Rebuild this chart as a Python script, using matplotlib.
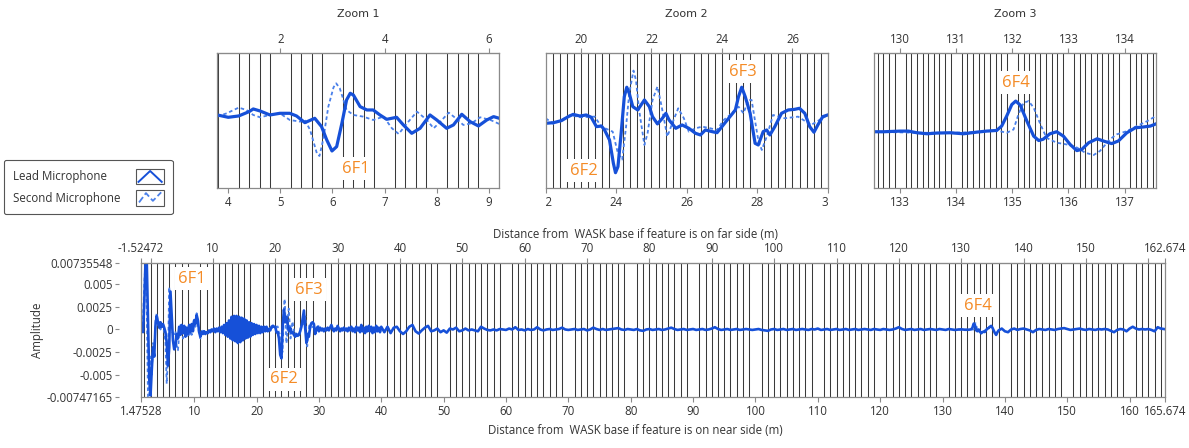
import numpy as np
import matplotlib
matplotlib.use('Agg')
import matplotlib.pyplot as plt
from matplotlib.ticker import MultipleLocator, NullLocator
from matplotlib.legend_handler import HandlerBase
from matplotlib.patches import Rectangle
from matplotlib.lines import Line2D
from matplotlib.transforms import Bbox, TransformedBbox

AMP_UNIT = 1e-3          # all amplitude lists below are in units of 1e-3
NEAR_FAR_OFFSET = 3.0    # far-side distance = near-side distance - 3

# ---------------- overview (main) chart data ----------------
# lead microphone, segment A: start 1.4 m, step 0.2 m
main_leadA_start, main_leadA_step = 1.4, 0.2
main_leadA = [
    0.2, 0.3, -0.3, 3.0, 7.5, 7.5, 1.0, -5.5, -7.3, -4.5,
    -2.0, -3.0, 0.5, 1.5, 0.8, 0.2, 0.8, 0.3, 0.6, 0.2,
    -0.3, -1.5, -4.0, -2.0, 4.2, 1.5, -1.2, -2.2, -1.8, -0.5,
    -1.0, 0.3, -0.6, 0.5, -0.4, 0.4, -0.8, 0.2, -0.5, 0.5,
    -0.3, 0.6, -0.2, 1.0, 0.6, 1.6, 1.0, -0.3, -0.8, -0.3,
    -0.5, -0.2, -0.5, -0.3, -0.4, -0.1, -0.3, 0.0, -0.2, 0.1,
    -0.3, 0.1, -0.2, 0.2, -0.3, 0.3, -0.4, 0.5, -0.6, 0.7,
    -0.8, 1.0, -1.0, 1.4, -1.2, 1.5, -1.3, 1.5, -1.5, 1.4,
    -1.4, 1.3, -1.2, 1.2, -1.0, 1.0, -0.9, 0.8, -0.8, 0.7,
    -0.6, 0.6, -0.5, 0.5, -0.4, 0.4, -0.4, 0.3, -0.3, 0.3,
    -0.2, 0.3, -0.2, 0.0, -0.1, 0.3, 0.4, 0.3, 0.3, -0.3,
    -0.3, -1.0, -2.8, -3.2, 0.5, 2.2, 0.8, 1.4, 0.5, -0.2,
    0.2, -0.4, -0.3, -0.6, -0.8, -0.5, -0.7, -0.6, -0.2, 0.3,
    1.2, 2.1, 0.2, -1.5, -0.5, -0.8, 0.3, 0.7, 0.8, 0.6,
    -0.5, 0.0, 0.3, -0.2, 0.2, -0.1, 0.1, -0.2, 0.1, -0.1,
    0.2, -0.1, 0.2, 0.5, 0.1, -0.2, 0.1, -0.1, 0.4, 0.1,
    -0.2, 0.1, -0.1, 0.2, -0.1, 0.1, -0.2, 0.2, -0.1, 0.3,
    -0.2, 0.1, -0.3, 0.3, -0.1, 0.2, -0.3, 0.5, -0.2, 0.2,
    -0.4, 0.3, -0.2, 0.4, -0.2, 0.3, -0.4, 0.2, -0.3, 0.4,
    -0.2, 0.2, -0.3, 0.3,
]
# segment B: start 40.5 m, step 0.5 m
main_leadB_start, main_leadB_step = 40.5, 0.5
main_leadB = [
    -0.3, 0.3, -0.4, 0.2, 0.3, -0.2, -0.5, -0.2, 0.3, 0.5,
    -0.2, -0.45, -0.1, 0.2, 0.4, -0.2, -0.1, 0.1, -0.3, -0.1,
    -0.35, 0.1, 0.0, 0.2, -0.2, -0.1, 0.1, -0.1, 0.0, -0.1,
    -0.2, 0.3, 0.1, -0.05, -0.1, 0.0, -0.1, 0.05, 0.0, -0.05,
    0.1, 0.0, 0.25, -0.05, 0.0, -0.1, 0.05, -0.05, 0.0, 0.25,
    0.0, -0.1, 0.0, 0.05, -0.05, 0.0, 0.05, 0.2, 0.0, -0.05,
    0.0, 0.05, -0.05, 0.0, 0.05, -0.1, 0.0, 0.2, 0.05, -0.05,
    0.05, -0.05, 0.0, 0.05, 0.1, 0.15, 0.0, -0.05, 0.05, 0.0,
    -0.05, 0.05, -0.1, -0.15, 0.0, 0.05, -0.05, 0.0, 0.05, -0.05,
    0.0, 0.1, 0.2, 0.05, -0.05, 0.0, 0.05, -0.05, 0.0, 0.05,
    -0.05, 0.0, 0.05, -0.05, 0.0, 0.1, 0.25, 0.05, -0.05, 0.0,
    0.05, -0.05, 0.0, 0.05, -0.05, 0.0, 0.05, 0.0, -0.05, 0.0,
    0.05, -0.05, -0.1, -0.15, 0.0, 0.05, -0.05, 0.0, 0.05, -0.05,
    0.0, 0.05, -0.05, 0.0, 0.05, 0.0, -0.05, 0.05, 0.0, 0.1,
    -0.05, 0.0, 0.05, -0.05, 0.0, 0.05, -0.05, 0.0, 0.05, -0.05,
    0.0, 0.05, -0.05, 0.0, 0.05, 0.0, -0.05, 0.05, 0.0, -0.05,
    0.05, 0.0, -0.05, 0.0, 0.1, 0.25, 0.05, -0.05, 0.0, 0.05,
    -0.05, 0.0, 0.05, -0.05, 0.0, 0.05, 0.0, -0.05, 0.05, 0.0,
    -0.05, 0.05, 0.0, -0.05, 0.0,
]
# segment C (feature 6F4): start 132.6 m, step 0.2 m
main_leadC_start, main_leadC_step = 132.6, 0.2
main_leadC = [
    0.0, 0.0, 0.02, 0.0, -0.02, -0.03, -0.03, -0.02, -0.03, 0.0,
    0.02, 0.2, 0.65, 0.5, -0.1, -0.2, 0.0, -0.2, -0.42, -0.3,
    -0.22, -0.27, -0.05, 0.1, 0.15, 0.3, 0.4, 0.2, -0.1, -0.4,
    -0.6, -0.3, -0.1,
]
# segment D: start 139.5 m, step 0.5 m
main_leadD_start, main_leadD_step = 139.5, 0.5
main_leadD = [
    0.1, -0.2, -0.3, 0.0, 0.1, -0.05, 0.05, 0.1, 0.0, -0.1,
    -0.3, -0.05, 0.05, 0.0, -0.05, 0.05, 0.0, -0.05, 0.05, 0.1,
    0.15, 0.05, -0.05, 0.0, 0.05, 0.1, 0.0, -0.05, 0.05, 0.0,
    -0.05, 0.05, 0.0, 0.05, 0.0, -0.15, -0.3, -0.05, 0.05, 0.0,
    -0.2, 0.1, 0.3, 0.1, 0.0, 0.05, 0.0, 0.05, -0.05, -0.2,
    0.25, 0.1, 0.05,
]
# second microphone, start of record: start 1.4 m, step 0.2 m
main_secondA_start, main_secondA_step = 1.4, 0.2
main_secondA = [
    0.2, 0.0, 1.0, 5.0, 7.5, 2.0, -7.5, -7.5, -3.0, -5.0,
    -1.5, -2.5, 1.0, 1.8, 0.5, 0.8, 0.0, 0.6, 0.2, -0.2,
    -1.5, -6.0, -3.0, 4.7, 2.0, -0.2, -0.4, -0.5, -0.2, -1.8,
    -2.3, -0.5, 0.5, -0.4, -1.0, 0.3, -0.5, -0.9, -0.2, -0.8,
    0.2, -0.6, 0.4, 1.2, 0.3, 1.8, 0.5, -0.5, -1.0, 0.0,
    -0.6, 0.0, -0.4, -0.2,
]

# ---------------- zoom panel data ----------------
zoom1_x = [3.79, 4.00, 4.20, 4.40, 4.48, 4.61, 4.80, 4.99, 5.18, 5.31, 5.47, 5.66, 5.79,
           5.89, 5.99, 6.08, 6.18, 6.27, 6.34, 6.40, 6.53, 6.66, 6.78, 6.91, 7.04, 7.23,
           7.36, 7.52, 7.68, 7.87, 8.00, 8.19, 8.32, 8.48, 8.64, 8.80, 8.96, 9.09, 9.20]
zoom1_lead = [0.10, -0.25, -0.05, 0.60, 1.00, 0.70, 0.10, 0.35, 0.35, -0.05, -1.05, -0.40, -1.65,
              -3.65, -5.30, -4.65, -1.15, 2.35, 3.35, 3.10, 1.35, 0.85, 0.85, 0.10, -0.55, -0.25,
              -1.40, -2.65, -1.90, 0.10, -0.65, -1.90, -1.40, 0.20, -0.90, -1.55, -0.65, -0.15, -0.40]
zoom1_second_x = [3.79, 3.97, 4.20, 4.35, 4.48, 4.61, 4.80, 4.99, 5.18, 5.38, 5.47, 5.57, 5.70,
                  5.75, 5.82, 5.92, 6.02, 6.07, 6.14, 6.27, 6.40, 6.59, 6.78, 6.98, 7.14, 7.27,
                  7.43, 7.62, 7.81, 7.94, 8.07, 8.23, 8.39, 8.51, 8.67, 8.83, 9.03, 9.20]
zoom1_second = [-0.15, 0.35, 1.20, 0.85, 0.10, -0.25, 0.10, 0.35, -0.65, -0.90, -0.65, -2.15, -5.65,
                -6.05, -3.65, 1.35, 4.25, 4.85, 4.10, 0.85, 0.10, -0.15, -0.65, -0.15, -1.90, -2.75,
                -1.15, 0.60, -0.65, -1.90, -0.90, 0.45, -0.55, -1.40, -1.15, -0.25, -0.65, -1.25]

zoom2_x = [22.00, 22.22, 22.45, 22.64, 22.78, 22.97, 23.15, 23.29, 23.44, 23.58, 23.67, 23.81,
           23.92, 23.98, 24.05, 24.14, 24.23, 24.30, 24.37, 24.47, 24.61, 24.80, 24.94, 25.03,
           25.17, 25.31, 25.41, 25.50, 25.69, 25.87, 26.06, 26.25, 26.39, 26.53, 26.72, 26.86,
           27.00, 27.19, 27.38, 27.47, 27.56, 27.66, 27.80, 27.94, 28.03, 28.17, 28.27, 28.36,
           28.50, 28.69, 28.88, 29.06, 29.20, 29.35, 29.49, 29.61, 29.72, 29.86, 30.00]
zoom2_lead = [-0.11, -0.07, 0.07, 0.33, 0.48, 0.37, 0.44, 0.29, -0.33, -0.29, -0.55, -1.21,
              -2.75, -3.37, -2.97, -0.77, 1.65, 2.27, 1.87, 0.99, 0.77, 1.43, 0.99, 0.33,
              -0.15, 0.22, 0.55, 0.11, -0.44, -0.22, -0.44, -0.77, -0.88, -0.55, -0.66, -0.73,
              -0.33, 0.22, 0.77, 1.65, 2.27, 1.65, 0.55, -1.43, -1.54, -0.66, -0.55, -0.88,
              -0.33, 0.55, 0.77, 0.81, 0.88, 0.55, -0.33, -0.70, -0.22, 0.33, 0.44]
zoom2_second_x = [22.00, 22.22, 22.45, 22.70, 22.97, 23.39, 23.58, 23.90, 24.05, 24.17, 24.28,
                  24.37, 24.49, 24.56, 24.65, 24.80, 24.89, 25.03, 25.17, 25.29, 25.45, 25.59,
                  25.76, 25.92, 26.06, 26.25, 26.44, 26.67, 26.86, 27.05, 27.23, 27.47, 27.61,
                  27.75, 27.84, 28.03, 28.13, 28.27, 28.45, 28.78, 29.16, 29.53, 30.00]
zoom2_second = [0.22, -0.15, 0.11, 0.44, 0.29, 0.33, -0.33, -0.66, -2.10, -2.50, -0.33,
                1.87, 3.37, 2.75, 0.77, -1.54, -0.77, 1.43, 2.31, 0.99, -0.99, -0.11,
                0.88, 0.22, -0.66, -0.44, -0.33, -0.44, -0.55, 0.11, 0.44, 0.99, 0.55,
                1.43, 1.43, -1.21, -1.87, -0.99, 0.44, 0.22, 0.33, -0.22, 0.44]

zoom3_x = [132.54, 132.70, 133.00, 133.15, 133.30, 133.48, 133.65, 133.89, 134.13, 134.37,
           134.54, 134.72, 134.81, 134.90, 134.99, 135.06, 135.14, 135.26, 135.38, 135.47,
           135.55, 135.67, 135.79, 135.91, 136.03, 136.15, 136.24, 136.36, 136.51, 136.62,
           136.77, 136.89, 137.04, 137.19, 137.34, 137.46, 137.56]
zoom3_lead = [0.0, 0.0, 0.015, 0.015, -0.023, -0.046, -0.03, -0.023, -0.046, -0.008,
              0.015, 0.03, 0.13, 0.36, 0.62, 0.70, 0.61, 0.24, -0.10, -0.20,
              -0.17, -0.046, 0.0, -0.10, -0.29, -0.43, -0.40, -0.25, -0.16, -0.21,
              -0.27, -0.21, -0.023, 0.09, 0.11, 0.13, 0.18]
zoom3_second_x = [132.54, 133.30, 133.89, 134.37, 134.72, 134.90, 135.02, 135.11, 135.20,
                  135.29, 135.38, 135.50, 135.61, 135.79, 135.97, 136.15, 136.30, 136.45,
                  136.56, 136.74, 136.86, 137.04, 137.22, 137.40, 137.56]
zoom3_second = [0.0, -0.023, -0.023, -0.008, 0.03, -0.023, 0.05, 0.40, 0.66,
                0.70, 0.55, 0.17, -0.14, -0.25, -0.29, -0.36, -0.48, -0.53,
                -0.44, -0.17, -0.06, 0.015, 0.13, 0.24, 0.36]

# ---------------- feature labels ----------------
feature_names_main = ['6F1', '6F2', '6F3', '6F4']
feature_x_main = [9.65, 24.4, 28.4, 135.6]
feature_y_main = [5.59, -5.48, 4.37, 2.6]
zoom_feature_names = [['6F1'], ['6F2', '6F3'], ['6F4']]
zoom_feature_x = [[6.45], [23.08, 27.59], [135.06]]
zoom_feature_y = [[-8.0], [-3.23, 3.3], [1.12]]

# ---------------- ticks ----------------
main_xlim = (1.47528, 165.674)
main_ylim = (-0.00747165, 0.00735548)
main_bottom_ticks = [1.47528, 10, 20, 30, 40, 50, 60, 70, 80, 90, 100, 110, 120, 130,
                     140, 150, 160, 165.674]
main_bottom_labels = ['1.47528', '10', '20', '30', '40', '50', '60', '70', '80', '90',
                      '100', '110', '120', '130', '140', '150', '160', '165.674']
main_top_ticks = [-1.52472, 0, 10, 20, 30, 40, 50, 60, 70, 80, 90, 100, 110, 120, 130,
                  140, 150, 160, 162.674]
main_top_labels = ['-1.52472', '', '10', '20', '30', '40', '50', '60', '70', '80', '90',
                   '100', '110', '120', '130', '140', '150', '', '162.674']
main_yticks = [0.00735548, 0.005, 0.0025, 0, -0.0025, -0.005, -0.00747165]
main_ylabels = ['0.00735548', '0.005', '0.0025', '0', '-0.0025', '-0.005', '-0.00747165']

zoom_titles = ['Zoom 1', 'Zoom 2', 'Zoom 3']
zoom_xlims = [(3.79, 9.2), (22.0, 30.0), (132.54, 137.56)]
zoom_ylims = [(-10.9, 9.35), (-4.4, 4.51), (-1.29, 1.79)]
zoom_bottom_ticks = [[4, 5, 6, 7, 8, 9], [22, 24, 26, 28, 30], [133, 134, 135, 136, 137]]
zoom_top_ticks = [[2, 4, 6], [20, 22, 24, 26], [130, 131, 132, 133, 134]]
zoom_grid_step = [0.2, 0.2, 0.1]

legend_labels = ['Lead Microphone', 'Second Microphone']

# ---------------- style ----------------
LEAD_C = '#1650d8'
SECOND_C = '#4a80ea'
ORANGE = '#f48b26'
FRAME = '#8a8a8a'
GRID = '#3a3a3a'
TXT = '#333333'
FONT = ['Open Sans', 'DejaVu Sans']
plt.rcParams['font.family'] = FONT
TICK_FS = 8.3

W, H = 1189, 448
fig = plt.figure(figsize=(W / 100, H / 100), dpi=100)


def rect(l, t, r, b):
    return [l / W, 1 - b / H, (r - l) / W, (b - t) / H]


def to_far(x):
    return x - NEAR_FAR_OFFSET


def to_near(x):
    return x + NEAR_FAR_OFFSET


def style_frame(ax):
    for sp in ax.spines.values():
        sp.set_color(FRAME)
        sp.set_linewidth(0.9)
    ax.set_axisbelow(True)
    ax.grid(which='minor', axis='x', color=GRID, lw=0.75)
    ax.grid(which='major', axis='x', visible=False)
    ax.tick_params(axis='x', which='major', direction='out', length=3.5, width=0.8,
                   color=FRAME, labelsize=TICK_FS, labelcolor=TXT, pad=2)
    ax.tick_params(axis='x', which='minor', length=0)


# ---------------- main chart ----------------
ax = fig.add_axes(rect(141, 263, 1165, 397))
style_frame(ax)
segments = [(main_leadA_start, main_leadA_step, main_leadA),
            (main_leadB_start, main_leadB_step, main_leadB),
            (main_leadC_start, main_leadC_step, main_leadC),
            (main_leadD_start, main_leadD_step, main_leadD)]
lead_x, lead_y = [], []
for start, step, vals in segments:
    lead_x.extend(start + step * np.arange(len(vals)))
    lead_y.extend(vals)
secA_x = main_secondA_start + main_secondA_step * np.arange(len(main_secondA))
second_kw = dict(color=SECOND_C, lw=1.3, ls=(0, (2, 1.5)))
ax.plot(secA_x, np.array(main_secondA) * AMP_UNIT, **second_kw)
ax.plot(zoom2_second_x, np.array(zoom2_second) * AMP_UNIT, **second_kw)
ax.plot(zoom3_second_x, np.array(zoom3_second) * AMP_UNIT, **second_kw)
ax.plot(lead_x, np.array(lead_y) * AMP_UNIT, color=LEAD_C, lw=1.9)
ax.set_xlim(*main_xlim)
ax.set_ylim(*main_ylim)
ax.xaxis.set_minor_locator(MultipleLocator(1))
ax.set_xticks(main_bottom_ticks, main_bottom_labels)
ax.set_yticks(main_yticks, main_ylabels)
ax.spines['left'].set_position(('outward', 16))
ax.spines['left'].set_visible(False)
ax.plot([0, 0], [0, 1], transform=ax.transAxes, color=FRAME, lw=0.9, clip_on=False, zorder=2.5)
ax.tick_params(axis='y', direction='out', length=3, width=0.8, color=FRAME,
               labelsize=TICK_FS, labelcolor=TXT, pad=1.5)
ax.set_xlabel('Distance from  WASK base if feature is on near side (m)', fontsize=TICK_FS, color=TXT)
ax.xaxis.set_label_coords(0.483, -0.205)
ax.set_ylabel('Amplitude', fontsize=TICK_FS, color=TXT)
ax.yaxis.set_label_coords(-0.095, 0.5)
top = ax.secondary_xaxis('top', functions=(to_far, to_near))
top.set_xticks(main_top_ticks, main_top_labels)
top.xaxis.set_minor_locator(NullLocator())
top.tick_params(axis='x', direction='out', length=3.5, width=0.8, color=FRAME,
                labelsize=TICK_FS, labelcolor=TXT, pad=2)
top.spines['top'].set_color(FRAME)
top.set_xlabel('Distance from  WASK base if feature is on far side (m)', fontsize=TICK_FS, color=TXT)
top.xaxis.set_label_coords(0.483, 1.185, transform=ax.transAxes)
for name, fxv, fyv in zip(feature_names_main, feature_x_main, feature_y_main):
    ax.text(fxv, fyv * AMP_UNIT, name, color=ORANGE, fontsize=12, ha='center', va='center',
            zorder=6, bbox=dict(facecolor='white', edgecolor='none', pad=2.5))

# ---------------- zoom panels ----------------
zoom_rects = [rect(217.3, 53.3, 499.3, 188.3), rect(545.7, 53.3, 827.7, 188.3),
              rect(874.3, 53.3, 1156.0, 188.3)]
zoom_data = [(zoom1_x, zoom1_lead, zoom1_second_x, zoom1_second),
             (zoom2_x, zoom2_lead, zoom2_second_x, zoom2_second),
             (zoom3_x, zoom3_lead, zoom3_second_x, zoom3_second)]
legend_lines = None
for i in range(3):
    zax = fig.add_axes(zoom_rects[i])
    style_frame(zax)
    zx, zl, zsx, zs = zoom_data[i]
    s_line, = zax.plot(zsx, np.array(zs) * AMP_UNIT, color=SECOND_C, lw=1.3, ls=(0, (2, 1.5)))
    l_line, = zax.plot(zx, np.array(zl) * AMP_UNIT, color=LEAD_C, lw=2.3)
    if legend_lines is None:
        legend_lines = (l_line, s_line)
    zax.set_xlim(*zoom_xlims[i])
    zax.set_ylim(zoom_ylims[i][0] * AMP_UNIT, zoom_ylims[i][1] * AMP_UNIT)
    zax.xaxis.set_minor_locator(MultipleLocator(zoom_grid_step[i]))
    zax.set_xticks(zoom_bottom_ticks[i], [str(t) for t in zoom_bottom_ticks[i]])
    zax.set_yticks([])
    ztop = zax.secondary_xaxis('top', functions=(to_far, to_near))
    ztop.set_xticks(zoom_top_ticks[i], [str(t) for t in zoom_top_ticks[i]])
    ztop.xaxis.set_minor_locator(NullLocator())
    ztop.tick_params(axis='x', direction='out', length=3.5, width=0.8, color=FRAME,
                     labelsize=TICK_FS, labelcolor=TXT, pad=2)
    ztop.spines['top'].set_color(FRAME)
    clip = TransformedBbox(Bbox([[0, -1], [1, 0]]), zax.transAxes)
    for lbl in zax.get_xticklabels():
        lbl.set_clip_box(clip)
        lbl.set_clip_on(True)
    for name, fxv, fyv in zip(zoom_feature_names[i], zoom_feature_x[i], zoom_feature_y[i]):
        zax.text(fxv, fyv * AMP_UNIT, name, color=ORANGE, fontsize=12, ha='center', va='center',
                 zorder=6, bbox=dict(facecolor='white', edgecolor='none', pad=2.5))
    r = zoom_rects[i]
    fig.text(r[0] + r[2] / 2, 1 - 14 / H, zoom_titles[i], ha='center', va='center',
             fontsize=8, color=TXT, family=['DejaVu Sans'])


# ---------------- legend ----------------
class BoxHandler(HandlerBase):
    def __init__(self, xs, ys, **kw):
        super().__init__(**kw)
        self.xs, self.ys = xs, ys

    def create_artists(self, legend, orig_handle, xdescent, ydescent, width, height,
                       fontsize, trans):
        box = Rectangle((-xdescent, -ydescent), width, height, facecolor='white',
                        edgecolor='#555555', lw=0.8, transform=trans)
        ln = Line2D([-xdescent + width * x for x in self.xs],
                    [-ydescent + height * y for y in self.ys],
                    color=orig_handle.get_color(), lw=min(orig_handle.get_linewidth(), 1.4),
                    ls=orig_handle.get_linestyle(), transform=trans)
        return [box, ln]


lead_h, second_h = legend_lines
leg = fig.legend([lead_h, second_h], legend_labels,
                 handler_map={lead_h: BoxHandler([0.08, 0.5, 0.92], [0.15, 0.85, 0.15]),
                              second_h: BoxHandler([0.1, 0.35, 0.6, 0.9], [0.2, 0.8, 0.3, 0.85])},
                 loc='upper left', bbox_to_anchor=(4 / W, 1 - 160 / H), borderaxespad=0,
                 markerfirst=False, handlelength=2.4, handleheight=1.7, labelspacing=0.5,
                 handletextpad=1.4, borderpad=0.75, fontsize=TICK_FS, frameon=True,
                 fancybox=True, edgecolor='#555555', framealpha=1)
leg.get_frame().set_linewidth(0.8)
for t in leg.get_texts():
    t.set_color(TXT)

# left-align the entry texts (handles stay in one column on the right)
fig.canvas.draw()
rows = leg._legend_handle_box.get_children()[0].get_children()
widths = [t.get_window_extent().width for t in leg.get_texts()]
for row, w in zip(rows, widths):
    row.sep += (max(widths) - w) * 72.0 / fig.dpi

fig.savefig('out.png', dpi=100)
